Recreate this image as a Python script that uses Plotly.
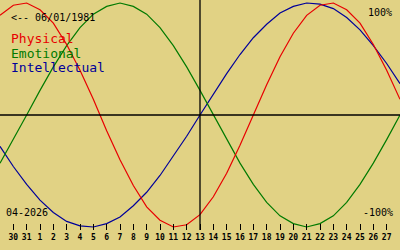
import plotly.graph_objects as go

# Days shown: 29 Mar 2026 .. 28 Apr 2026 (index 0..30), today = 13 Apr (index 15)
day_labels = ["29", "30", "31"] + [str(d) for d in range(1, 29)]
tick_idx = list(range(1, 30))
tick_text = day_labels[1:30]
today_idx = 15

physical = [89, 98, 100, 94, 82, 63, 40, 14, -14, -40, -63, -82, -94, -100, -98,
            -89, -73, -52, -27, 0, 27, 52, 73, 89, 98, 100, 94, 82, 63, 40, 14]
emotional = [-43, -22, 0, 22, 43, 62, 78, 90, 97, 100, 97, 90, 78, 62, 43,
             22, 0, -22, -43, -62, -78, -90, -97, -100, -97, -90, -78, -62, -43, -22, 0]
intellectual = [-28, -46, -62, -76, -87, -95, -99, -100, -97, -91, -81, -69, -54, -37, -19,
                0, 19, 37, 54, 69, 81, 91, 97, 100, 99, 95, 87, 76, 62, 46, 28]

x = list(range(len(physical)))

BG = "#E1D284"
RED = "#E80000"
GREEN = "#007A00"
BLUE = "#00009A"
MONO = "DejaVu Sans Mono"

fig = go.Figure()
for vals, col in [(intellectual, BLUE), (emotional, GREEN), (physical, RED)]:
    fig.add_trace(go.Scatter(x=x, y=vals, mode="lines",
                             line=dict(color=col, width=1.2, shape="linear"),
                             hoverinfo="skip", showlegend=False))

H = 230.0
def py(p):
    return (H - p) / H

fig.add_shape(type="line", xref="paper", yref="y", x0=0, x1=1, y0=0, y1=0,
              line=dict(color="black", width=1.3))
fig.add_shape(type="line", xref="x", yref="paper", x0=today_idx, x1=today_idx, y0=0, y1=1,
              line=dict(color="black", width=1.3))

def ann(text, px, pyc, size, color, xanchor="left", weight="normal"):
    fig.add_annotation(text=text, xref="paper", yref="paper",
                       x=px / 400.0, y=py(pyc), xanchor=xanchor, yanchor="middle",
                       showarrow=False, font=dict(family=MONO, size=size, color=color, weight=weight))

ann("<-- 06/01/1981", 9, 17, 10, "black")
ann("Physical", 9, 38, 13, RED)
ann("Emotional", 9, 53, 13, GREEN)
ann("Intellectual", 9, 68, 13, BLUE)
ann("04-2026", 4, 212.5, 10, "black")
ann("100%", 394, 12.5, 10, "black", xanchor="right")
ann("-100%", 395, 212.5, 10, "black", xanchor="right")

R = 100 * 115 / 112
fig.update_layout(
    width=400, height=250,
    margin=dict(l=0, r=0, t=0, b=20, pad=0),
    paper_bgcolor=BG, plot_bgcolor=BG,
    xaxis=dict(range=[0, 30], tickmode="array", tickvals=tick_idx, ticktext=tick_text,
               ticks="inside", ticklen=6, tickwidth=1.2, tickcolor="black",
               showgrid=False, zeroline=False, showline=False, layer="above traces",
               ticklabelstandoff=1,
               tickfont=dict(family=MONO, size=8, color="black", weight="bold")),
    yaxis=dict(range=[-R, R], visible=False, showgrid=False, zeroline=False),
)

fig.write_html("out.html")
